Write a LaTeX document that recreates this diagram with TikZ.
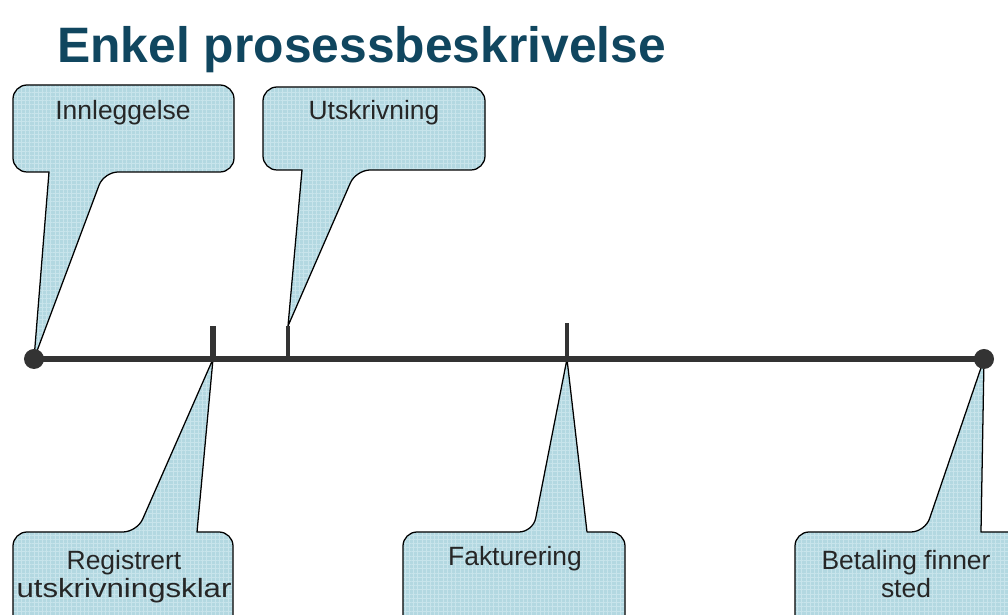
\documentclass[tikz,border=0pt]{standalone}
\usepackage{fontspec}
\setmainfont{Liberation Sans}
\usepackage{xcolor}
\usepackage{graphicx}
\usepackage{tikz}
\usetikzlibrary{patterns.meta}
\definecolor{titleblue}{HTML}{10465F}
\definecolor{bubblefill}{HTML}{B3D8E1}
\definecolor{bubblegrid}{HTML}{C8E4EB}
\definecolor{lineink}{HTML}{333333}
\tikzset{bubble/.style={draw=black,line width=0.9pt,line join=round,
  preaction={fill=bubblefill},pattern={Hatch[distance=3pt,angle=0,line width=0.35pt]},
  pattern color=bubblegrid}, btext/.style={font=\fontsize{18.8}{20}\selectfont,
  text=black!85,align=center,inner sep=0pt,anchor=base}, dot/.style={circle,fill=lineink,
  minimum size=0.5cm,inner sep=0pt}, tick/.style={draw=lineink,line width=4pt}}
% callout with pointer below: x1,y1,x2,y2,base left,base right,tip
\newcommand{\upbubble}[7]{\path[bubble] (#7) -- (#5,#4) [rounded corners=10pt]
  -- (#1,#4) -- (#1,#2) -- (#3,#2) -- (#3,#4) -- (#6,#4) [sharp corners] -- cycle;}
% callout with pointer above
\newcommand{\downbubble}[7]{\path[bubble] (#7) -- (#6,#2) [rounded corners=10pt]
  -- (#3,#2) -- (#3,#4) -- (#1,#4) -- (#1,#2) -- (#5,#2) [sharp corners] -- cycle;}

\begin{document}
\begin{tikzpicture}[x=0.025cm,y=-0.025cm]
 \clip (0,0) rectangle (1008,615);
 \node[font=\bfseries\fontsize{35.4}{40}\selectfont,text=titleblue,anchor=base west,
   inner sep=0pt] (title) at (57,63) {Enkel prosessbeskrivelse};
 % time line points
 \coordinate (p0) at (34,359);
 \coordinate (p1) at (213,359);
 \coordinate (p2) at (288,359);
 \coordinate (p3) at (567,359);
 \coordinate (p4) at (984,359);
 \coordinate (p1top) at (213,326);
 \coordinate (p2top) at (288,326);
 \coordinate (p3top) at (567,323);
 % callouts
 \upbubble{13}{85}{234}{172}{49}{104}{p0}
 \upbubble{263}{87}{485}{170}{302}{356}{p2top}
 \downbubble{13}{532}{233}{660}{137}{197}{p1}
 \downbubble{403}{532}{625}{660}{533}{587}{p3}
 \downbubble{795}{532}{1060}{660}{925}{981}{p4}
 \node[btext] (innl) at (123,120) {Innleggelse};
 \node[btext] (utskr) at (374,120) {Utskrivning};
 \node[btext] (regi) at (124,598) {Registrert\\\scalebox{1.18}[1]{utskrivningsklar}};
 \node[btext] (fakt) at (515,566) {Fakturering};
 \node[btext] (betal) at (906,598) {Betaling finner\\sted};
 % time line
 \draw[lineink,line width=4.5pt] (p0) -- (p4);
 \draw[tick] (p1) -- (p1top);
 \draw[tick,line width=3.5pt] (p2) -- (p2top);
 \draw[tick,line width=3.5pt] (p3) -- (p3top);
 \node[dot] (start) at (p0) {};
 \node[dot] (end) at (p4) {};
\end{tikzpicture}
\end{document}
